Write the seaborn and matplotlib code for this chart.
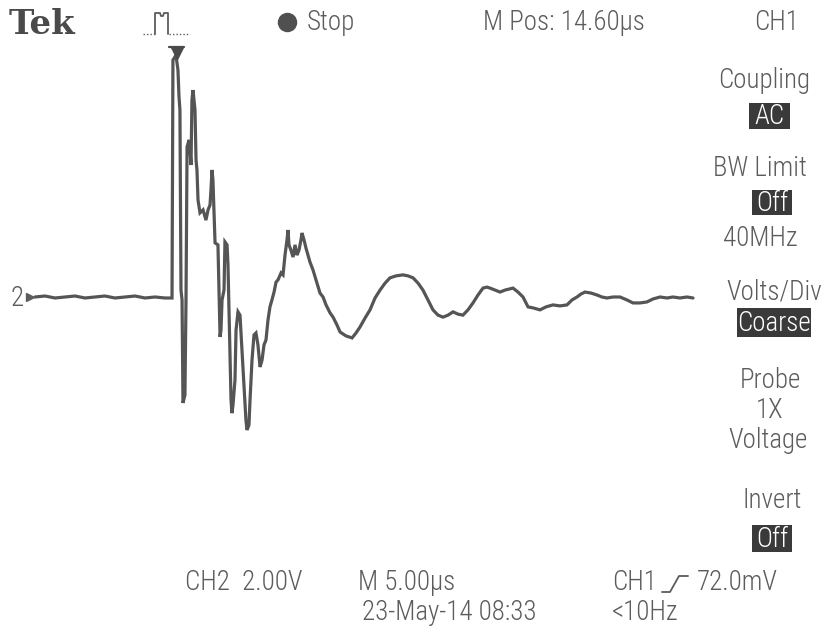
import matplotlib
matplotlib.use("Agg")
import matplotlib.pyplot as plt
from matplotlib import font_manager as fm
from matplotlib.lines import Line2D
from matplotlib.patches import Rectangle
import seaborn as sns
import pandas as pd

# CH2 trace: time from left edge of screen (µs), amplitude (V)
time_us = [
    0.00, 0.76, 1.52, 2.27, 3.03, 3.79, 4.55, 5.30, 6.06, 6.82, 7.58, 8.33, 9.09, 9.85, 10.38,
    10.45, 10.68, 10.83, 10.91, 10.98, 11.06, 11.14, 11.21, 11.36, 11.44, 11.52, 11.67, 11.74,
    11.82, 11.89, 11.97, 12.12, 12.20, 12.27, 12.35, 12.50, 12.73, 12.95, 13.11, 13.26, 13.33,
    13.41, 13.48, 13.56, 13.64, 13.86, 13.94, 14.02, 14.09, 14.17, 14.32, 14.39, 14.55, 14.62,
    14.77, 14.85, 14.92, 15.00, 15.15, 15.23, 15.38, 15.53, 15.68, 15.83, 15.98, 16.06, 16.21,
    16.29, 16.44, 16.59, 16.74, 16.89, 17.05, 17.20, 17.35, 17.50, 17.65, 17.80, 17.95, 18.11,
    18.26, 18.41, 18.64, 18.79, 18.94, 19.09, 19.17, 19.24, 19.39, 19.55, 19.70, 19.85, 20.00,
    20.15, 20.23, 20.38, 20.53, 20.68, 20.83, 21.06, 21.29, 21.59, 21.82, 22.05, 22.35, 22.58,
    22.88, 23.11, 23.33, 23.56, 23.79, 24.02, 24.32, 24.62, 25.00, 25.38, 25.76, 26.14, 26.52,
    26.89, 27.35, 27.88, 28.26, 28.64, 29.02, 29.39, 29.77, 30.15, 30.53, 30.91, 31.29, 31.67,
    32.05, 32.42, 32.80, 33.18, 33.56, 33.94, 34.24, 34.47, 34.85, 35.23, 35.61, 35.91, 36.21,
    36.59, 36.97, 37.20, 37.35, 37.73, 38.26, 38.71, 39.24, 39.77, 40.30, 40.68, 41.06, 41.36,
    41.67, 42.12, 42.58, 42.95, 43.33, 43.79, 44.32, 44.85, 45.30, 45.83, 46.36, 46.82, 47.35,
    47.88, 48.33, 48.86, 49.39, 49.85,
]
ch2_volts = [
    0.00, 0.03, -0.03, 0.00, 0.03, -0.03, 0.00, 0.03, -0.03, 0.00, 0.03, -0.03, 0.00, -0.03, -0.03,
    7.18, 7.33, 6.88, 6.06, 5.67, 0.21, -0.09, -3.21, -2.97, -0.09, 4.55, 4.76, 4.45,
    4.00, 5.97, 6.27, 5.67, 4.15, 3.85, 2.94, 2.55, 2.64, 2.33, 2.64, 2.79, 3.24,
    3.85, 3.55, 2.64, 1.64, 1.58, 0.21, -1.21, -1.00, -0.09, 0.21, 1.67, 1.58, 0.97,
    -1.61, -3.12, -3.52, -3.27, -2.52, -1.00, -0.45, -0.55, -1.61, -2.67, -3.73, -4.03, -3.88,
    -3.12, -1.91, -1.15, -1.09, -1.45, -2.12, -1.91, -1.45, -1.30, -0.70, -0.30, -0.09, 0.15,
    0.45, 0.52, 0.73, 0.67, 1.27, 1.73, 2.03, 1.58, 1.42, 1.21, 1.58, 1.27, 1.42,
    1.73, 1.94, 1.73, 1.48, 1.27, 1.06, 0.82, 0.52, 0.12, 0.00, -0.24, -0.48, -0.61,
    -0.85, -1.06, -1.12, -1.18, -1.21, -1.24, -1.09, -0.91, -0.64, -0.39, -0.03, 0.21, 0.42,
    0.58, 0.64, 0.67, 0.64, 0.58, 0.42, 0.21, -0.09, -0.39, -0.55, -0.61, -0.55, -0.45,
    -0.52, -0.55, -0.39, -0.18, 0.06, 0.27, 0.30, 0.27, 0.21, 0.15, 0.21, 0.24, 0.27,
    0.15, 0.00, -0.18, -0.30, -0.33, -0.39, -0.30, -0.24, -0.27, -0.24, -0.09, 0.00, 0.09,
    0.15, 0.12, 0.06, 0.00, -0.03, 0.00, 0.00, -0.09, -0.18, -0.18, -0.15, -0.06, 0.00,
    -0.03, 0.00, -0.03, 0.00, -0.03,
]

# Readout panel text
header_items = ["Stop", "M Pos: 14.60\u00b5s", "CH1"]
menu_labels = ["Coupling", "BW Limit", "40MHz", "Volts/Div", "Probe", "1X", "Voltage", "Invert"]
menu_values = ["AC", "Off", "Coarse", "Off"]
footer_items = ["CH2  2.00V", "M 5.00\u00b5s", "CH1", "72.0mV", "23-May-14 08:33", "<10Hz"]

sns.set_theme(style="white")


def narrow_family():
    for fam in ["Roboto Condensed", "Liberation Sans Narrow", "Arial Narrow", "Open Sans Condensed"]:
        try:
            fm.findfont(fm.FontProperties(family=fam), fallback_to_default=False)
            return fam, "normal"
        except ValueError:
            pass
    path = fm.findfont(fm.FontProperties(family="DejaVu Sans", stretch="condensed"))
    if "Condensed" in path:
        return "DejaVu Sans", "condensed"
    return "Liberation Sans", "normal"


FAMILY, STRETCH = narrow_family()
plt.rcParams["font.family"] = [FAMILY, "DejaVu Sans"]
plt.rcParams["font.stretch"] = STRETCH
plt.rcParams["font.weight"] = "light"

W, H = 826, 635
PX_PER_US = 13.2
PX_PER_V = 33.0
X0, Y0 = 35, 297
TXT = "#5c5c5c"
TRACE = "#555555"
BOX = "#3a3a3a"

fig = plt.figure(figsize=(W / 100, H / 100), dpi=100)
fig.patch.set_facecolor("white")

# scale the readout font so the position readout spans its panel width
probe = fig.text(0, 0, header_items[1], fontsize=14)
renderer = fig.canvas.get_renderer()
FS = 14 * 162.0 / probe.get_window_extent(renderer).width
probe.remove()

ax = fig.add_axes([0, 0, 1, 1])
df = pd.DataFrame({"t": time_us, "v": ch2_volts})
sns.lineplot(data=df, x="t", y="v", ax=ax, color=TRACE, linewidth=2.3,
             estimator=None, solid_joinstyle="miter")
ax.set_xlim(-X0 / PX_PER_US, (W - X0) / PX_PER_US)
ax.set_ylim(-(H - Y0) / PX_PER_V, Y0 / PX_PER_V)
ax.axis("off")


def fx(px):
    return px / W


def fy(py):
    return 1 - py / H


def label(px, py, s, ha="center", size=None, color=TXT, **kw):
    fig.text(fx(px), fy(py), s, ha=ha, va="center", fontsize=size or FS, color=color, **kw)


def value_box(x0, x1, y0, y1, s):
    fig.add_artist(Rectangle((fx(x0), fy(y1)), fx(x1) - fx(x0), fy(y0) - fy(y1),
                             transform=fig.transFigure, facecolor=BOX, edgecolor="none"))
    label((x0 + x1) / 2, (y0 + y1) / 2 + 1, s, color="white")


def seg(xs, ys, **kw):
    fig.add_artist(Line2D([fx(x) for x in xs], [fy(y) for y in ys],
                          transform=fig.transFigure, **kw))


# Brand mark
fig.text(fx(9), fy(25), "Tek", ha="left", va="center", fontsize=24.5,
         fontweight="bold", family="DejaVu Serif", color="#4a4a4a")

# Trigger-type icon (rising pulse)
seg([143, 155], [34, 34], color=TXT, lw=1.0, ls=(0, (1, 1.5)))
seg([155, 155, 160, 161, 163, 164, 168, 168], [34, 13, 13, 16, 16, 13, 13, 34],
    color=TXT, lw=1.3)
seg([169, 190], [34, 34], color=TXT, lw=1.0, ls=(0, (1, 1.5)))

# Trigger position marker
seg([169, 184], [47, 47], color="#4a4a4a", lw=1.6)
fig.add_artist(Line2D([fx(176.5)], [fy(53)], marker="v", markersize=8,
                      color="#4a4a4a", transform=fig.transFigure))

# Acquisition state
fig.add_artist(Line2D([fx(287)], [fy(22)], marker="o", markersize=13,
                      color="#505050", transform=fig.transFigure))
label(307, 22, header_items[0], ha="left")
label(483, 22, header_items[1], ha="left")
label(777, 22, header_items[2])

# Channel ground marker
label(17, 298, "2")
fig.add_artist(Line2D([fx(30)], [fy(297)], marker=">", markersize=6,
                      color=TXT, transform=fig.transFigure))

# Side menu
label(764, 80, menu_labels[0])
value_box(749, 790, 103, 129, menu_values[0])
label(760, 168, menu_labels[1])
value_box(752, 792, 190, 215, menu_values[1])
label(760, 238, menu_labels[2])
label(774, 292, menu_labels[3])
value_box(737, 811, 308, 337, menu_values[2])
label(770, 381, menu_labels[4])
label(770, 411, menu_labels[5])
label(768, 441, menu_labels[6])
label(772, 500, menu_labels[7])
value_box(752, 792, 525, 552, menu_values[3])

# Bottom readout
label(185, 583, footer_items[0], ha="left")
label(358, 583, footer_items[1], ha="left")
label(612, 583, footer_items[2], ha="left")
seg([662, 670, 679, 688], [592, 592, 576, 576], color=TXT, lw=1.3)
label(697, 583, footer_items[3], ha="left")
label(362, 613, footer_items[4], ha="left")
label(612, 613, footer_items[5], ha="left")

fig.savefig("out.png", dpi=100, facecolor="white")
